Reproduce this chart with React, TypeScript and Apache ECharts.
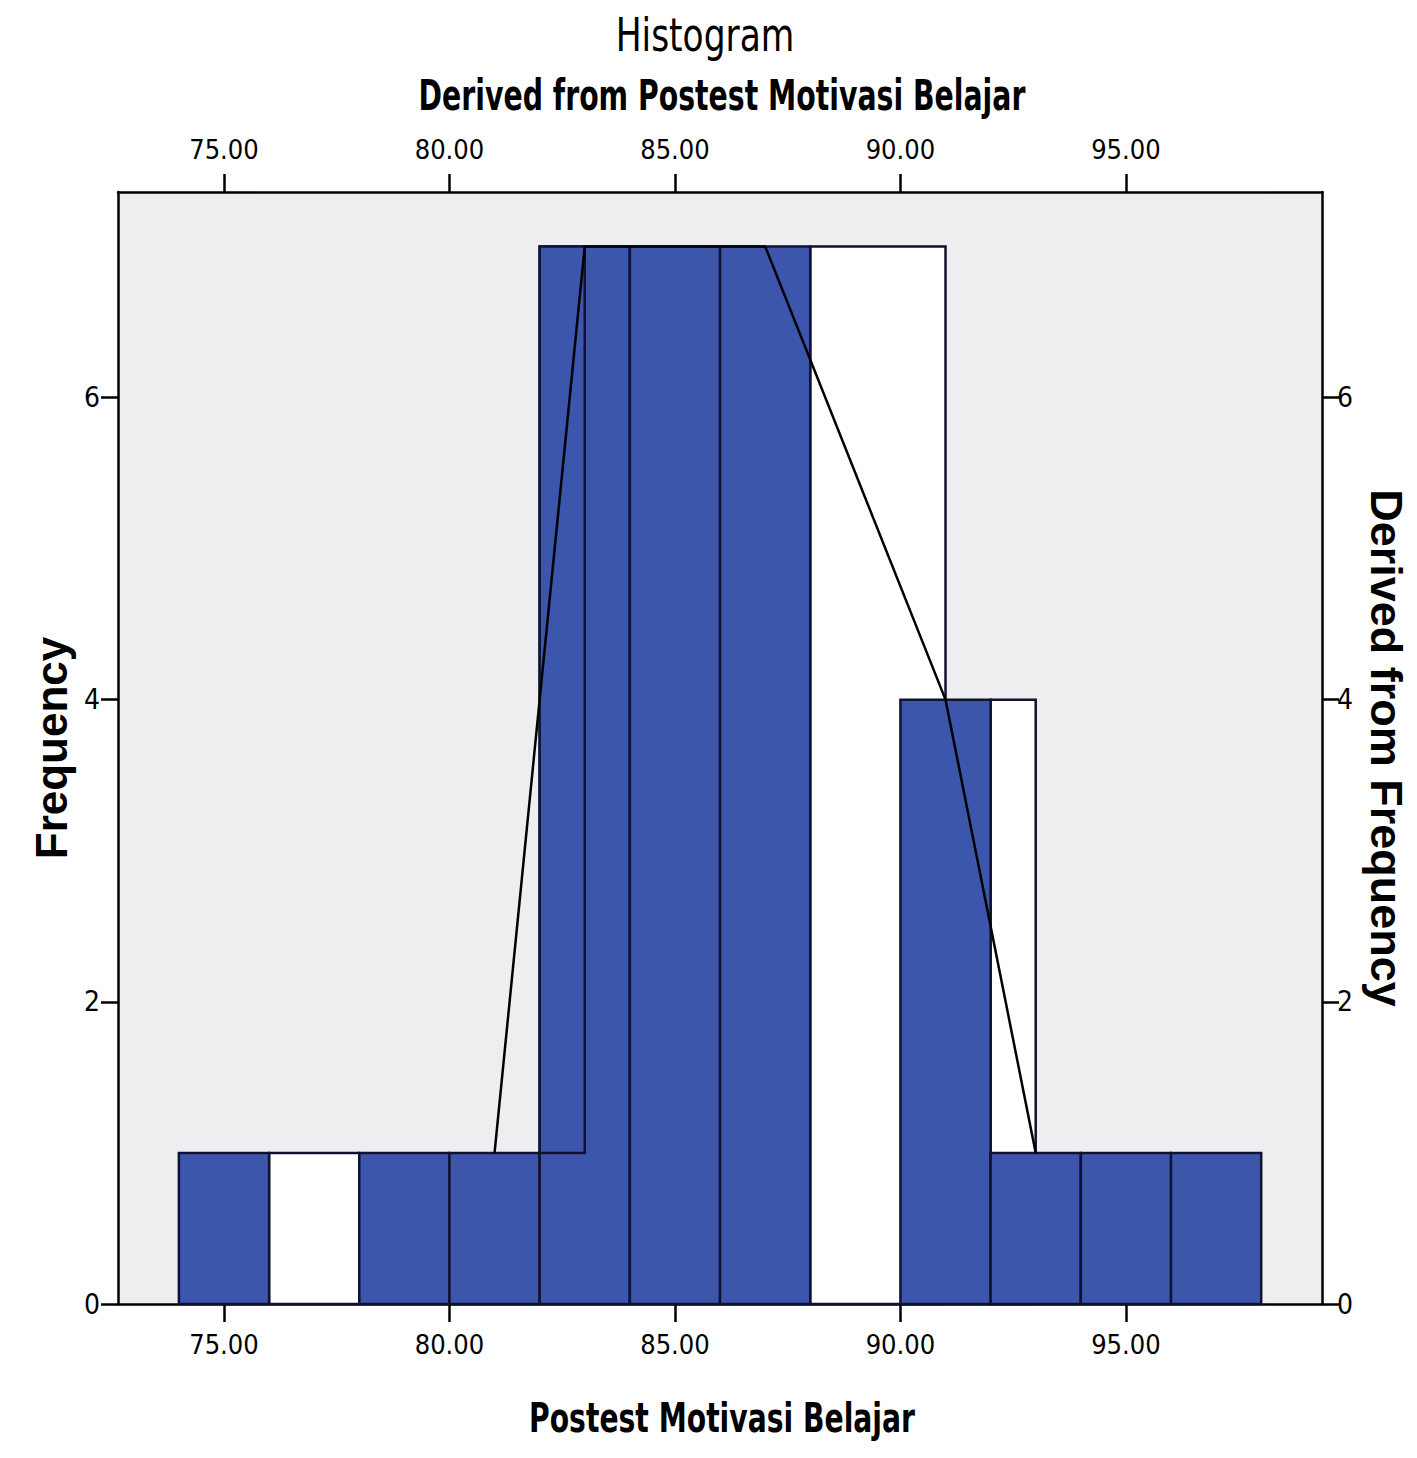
import { useEffect, useRef } from "react";
import * as echarts from "echarts";

// histogram bins (blue, front)
const blueStarts = [74, 78, 80, 82, 84, 86, 90, 92, 94, 96];
const blueEnds = [76, 80, 82, 84, 86, 88, 92, 94, 96, 98];
const blueCounts = [1, 1, 1, 7, 7, 7, 4, 1, 1, 1];

// derived bins (white, behind)
const whiteStarts = [76, 88, 92];
const whiteEnds = [78, 91, 93];
const whiteCounts = [1, 7, 4];

// small bin drawn over the 82-84 bar
const overlayStarts = [82];
const overlayEnds = [83];
const overlayBases = [1];
const overlayTops = [7];

// derived frequency polygon
const polyX = [81, 83, 87, 91, 93];
const polyY = [1, 7, 7, 4, 1];

const xTicks = [75, 80, 85, 90, 95];
const yTicks = [0, 2, 4, 6];

const NARROW = "'Liberation Sans Narrow', 'DejaVu Sans Condensed', 'Liberation Sans', sans-serif";
const SANS = "'Liberation Sans', Arial, sans-serif";
const EDGE = "#111133";

function rectRenderer(fill: string) {
  return (params: any, api: any) => {
    const p0 = api.coord([api.value(0), api.value(3)]);
    const p1 = api.coord([api.value(1), api.value(2)]);
    return {
      type: "rect",
      shape: { x: p0[0], y: p0[1], width: p1[0] - p0[0], height: p1[1] - p0[1] },
      style: { fill, stroke: EDGE, lineWidth: 2.5 },
    };
  };
}

export default function App() {
  const chartRef = useRef<HTMLDivElement>(null);

  useEffect(() => {
    if (!chartRef.current) return;
    document.body.style.margin = "0";
    const chart = echarts.init(chartRef.current, null, { renderer: "svg" });

    const blueData = blueStarts.map((s, i) => [s, blueEnds[i], 0, blueCounts[i]]);
    const whiteData = whiteStarts.map((s, i) => [s, whiteEnds[i], 0, whiteCounts[i]]);
    const overlayData = overlayStarts.map((s, i) => [s, overlayEnds[i], overlayBases[i], overlayTops[i]]);
    const polyData = polyX.map((x, i) => [x, polyY[i]]);

    const xAxisBase = {
      type: "value",
      min: 72.65,
      max: 99.35,
      splitLine: { show: false },
      axisLine: { show: true, onZero: false, lineStyle: { color: "#000", width: 2.5 } },
      axisTick: { show: true, length: 18, customValues: xTicks, lineStyle: { color: "#000", width: 2.5 } },
      axisLabel: {
        customValues: xTicks,
        formatter: (v: number) => v.toFixed(2),
        fontFamily: NARROW,
        fontSize: 27,
        color: "#000",
      },
    };

    const yAxisBase = {
      type: "value",
      min: 0,
      max: 7.36,
      splitLine: { show: false },
      axisLine: { show: true, lineStyle: { color: "#000", width: 2.5 } },
      axisTick: { show: true, length: 17, customValues: yTicks, lineStyle: { color: "#000", width: 2.5 } },
      axisLabel: { customValues: yTicks, fontFamily: NARROW, fontSize: 28, color: "#000" },
      nameLocation: "middle",
      nameTextStyle: { fontFamily: SANS, fontWeight: "bold", color: "#000" },
    };

    chart.setOption({
      animation: false,
      backgroundColor: "#fff",
      grid: {
        left: 118,
        top: 192,
        width: 1207,
        height: 1112,
        show: true,
        backgroundColor: "#eeeef0",
        borderWidth: 0,
      },
      xAxis: [
        { ...xAxisBase, position: "bottom", axisLabel: { ...xAxisBase.axisLabel, margin: 27 } },
        { ...xAxisBase, position: "top", axisLabel: { ...xAxisBase.axisLabel, margin: 29 } },
      ],
      yAxis: [
        {
          ...yAxisBase,
          position: "left",
          name: "Frequency",
          nameGap: 43,
          nameTextStyle: { ...yAxisBase.nameTextStyle, fontSize: 44 },
          axisLabel: { ...yAxisBase.axisLabel, margin: 18 },
        },
        {
          ...yAxisBase,
          position: "right",
          name: "Derived from Frequency",
          nameGap: 31,
          nameRotate: -90,
          nameTextStyle: { ...yAxisBase.nameTextStyle, fontSize: 45 },
          axisLabel: { ...yAxisBase.axisLabel, margin: 15 },
        },
      ],
      graphic: [
        {
          type: "text",
          x: 705,
          y: 35,
          scaleX: 0.815,
          style: { text: "Histogram", font: `47px ${NARROW}`, fill: "#000", textAlign: "center", textVerticalAlign: "middle" },
        },
        {
          type: "text",
          x: 722,
          y: 96,
          scaleX: 0.75,
          style: {
            text: "Derived from Postest Motivasi Belajar",
            font: `bold 42px ${NARROW}`,
            fill: "#000",
            textAlign: "center",
            textVerticalAlign: "middle",
          },
        },
        {
          type: "text",
          x: 722,
          y: 1418,
          scaleX: 0.765,
          style: {
            text: "Postest Motivasi Belajar",
            font: `bold 41px ${NARROW}`,
            fill: "#000",
            textAlign: "center",
            textVerticalAlign: "middle",
          },
        },
      ],
      series: [
        { type: "custom", name: "derived", z: 1, data: whiteData, encode: { x: [0, 1], y: [2, 3] }, renderItem: rectRenderer("#ffffff") },
        { type: "custom", name: "frequency", z: 2, data: blueData, encode: { x: [0, 1], y: [2, 3] }, renderItem: rectRenderer("#3c56ac") },
        { type: "custom", name: "overlay", z: 3, data: overlayData, encode: { x: [0, 1], y: [2, 3] }, renderItem: rectRenderer("#3c56ac") },
        {
          type: "line",
          name: "polygon",
          z: 4,
          data: polyData,
          symbol: "none",
          lineStyle: { color: "#000", width: 2.5 },
        },
      ],
    });

    return () => {
      chart.dispose();
    };
  }, []);

  return (
    <div
      ref={chartRef}
      style={{ position: "absolute", left: 0, top: 0, width: 1417, height: 1458 }}
    />
  );
}
